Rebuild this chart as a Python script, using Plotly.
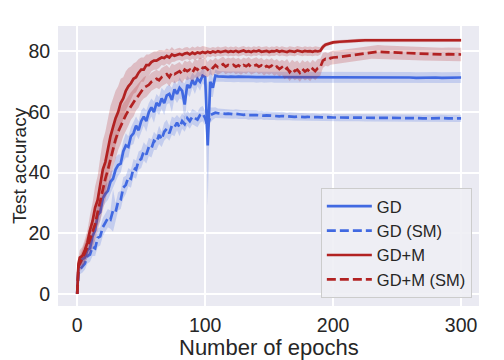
import plotly.graph_objects as go

# ---------------- data ----------------
epochs = [0, 1] + list(range(2, 201, 2)) + list(range(205, 301, 5))

gd_mean = [0, 9,
    10, 11.5, 12, 14.5, 15, 19, 21, 26, 27, 31.5,
    33, 34, 37, 38, 41, 42.5, 43, 47, 49, 48.5,
    52, 53, 55.5, 54, 57, 58.5, 57, 60, 61.5, 60,
    63, 62, 64.5, 63, 65.5, 66, 64, 67.5, 66, 68,
    67, 62.5, 69, 68, 70.5, 69, 71, 70, 72, 71.5,
    49, 70, 68, 72, 71.8, 71.7, 71.8, 71.7, 71.6, 71.7,
    71.6, 71.6, 71.7, 71.6, 71.5, 71.6, 71.6, 71.5, 71.6, 71.5,
    71.5, 71.6, 71.5, 71.5, 71.5, 71.6, 71.5, 71.5, 71.4, 71.5,
    71.5, 71.4, 71.5, 71.5, 71.4, 71.5, 71.4, 71.5, 71.4, 71.4,
    71.5, 71.4, 71.4, 71.5, 71.4, 71.4, 71.4, 71.5, 71.4, 71.4,
    71.4, 71.4, 71.4, 71.4, 71.4, 71.4, 71.4, 71.4, 71.4, 71.4,
    71.4, 71.4, 71.3, 71.4, 71.4, 71.4, 71.3, 71.4, 71.4, 71.4]
gd_sd = [0, 1.5,
    1.5, 2, 2, 2.5, 2.5, 3, 3, 3.5, 3, 3,
    3, 3, 3.5, 3, 4, 3.5, 3, 3.5, 4, 3.5,
    3, 3.5, 3, 3, 3.5, 3, 3.5, 3, 3, 3.5,
    3, 3, 3.5, 4, 3, 3, 4, 3, 3, 3.5,
    3, 7, 3, 3, 2.5, 3, 2.5, 3, 2.5, 3,
    20, 5, 3, 2, 1.8, 1.8, 1.8, 1.8, 1.8, 1.8,
    1.8, 1.8, 1.8, 1.8, 1.8, 1.8, 1.8, 1.8, 1.8, 1.8,
    1.8, 1.8, 1.8, 1.8, 1.8, 1.8, 1.8, 1.8, 1.8, 1.8,
    1.8, 1.8, 1.8, 1.8, 1.8, 1.8, 1.8, 1.8, 1.8, 1.8,
    1.8, 1.8, 1.8, 1.8, 1.8, 1.8, 1.8, 1.8, 1.8, 1.8,
    1.8, 1.8, 1.8, 1.8, 1.8, 1.8, 1.8, 1.8, 1.8, 1.8,
    1.8, 1.8, 1.8, 1.8, 1.8, 1.8, 1.8, 1.8, 1.8, 1.8]

gd_sm_mean = [0, 7,
    8, 9, 10, 12.5, 13, 15.5, 15, 18.5, 19, 22,
    23.5, 25, 24.5, 27.5, 27, 30.5, 31, 35, 36, 38.5,
    38, 41.5, 41, 44, 44.5, 47, 46, 48.5, 48, 50.5,
    50, 52.5, 51, 53.5, 54.5, 53, 55.5, 55, 56.5, 55,
    57, 56, 58, 57, 58.5, 58, 57.5, 59, 59.5, 58,
    55, 59, 59.5, 59.8, 59.6, 59.5, 59.6, 59.4, 59.5, 59.3,
    59.3, 59.4, 59.2, 59.2, 59.1, 59.2, 59.0, 59.1, 59.0, 59.0,
    58.9, 59.0, 58.8, 58.9, 58.8, 58.7, 58.8, 58.7, 58.6, 58.7,
    58.6, 58.5, 58.6, 58.5, 58.4, 58.5, 58.4, 58.4, 58.3, 58.4,
    58.3, 58.4, 58.3, 58.3, 58.2, 58.3, 58.2, 58.3, 58.2, 58.2,
    58.2, 58.2, 58.1, 58.2, 58.1, 58.1, 58.1, 58.0, 58.1, 58.0,
    58.0, 58.0, 58.0, 57.9, 58.0, 57.9, 58.0, 57.9, 57.9, 57.9]
gd_sm_sd = [0, 1.5,
    1.5, 2, 2, 2.5, 2.5, 3, 2.5, 3, 3, 3,
    3, 3, 3, 7, 3, 3, 3, 3.5, 3, 3,
    3, 3, 3, 3, 3, 3, 3, 3, 3, 3,
    2.5, 3, 2.5, 3, 3, 2.5, 3, 3, 2.5, 3,
    2.5, 2.5, 2.5, 2.5, 2.5, 2.5, 2.5, 2.5, 2.5, 2.5,
    6, 2.5, 2, 1.8, 1.6, 1.6, 1.6, 1.5, 1.5, 1.5,
    1.5, 1.5, 1.5, 1.5, 1.5, 1.5, 1.5, 1.5, 1.5, 1.5,
    1.4, 1.4, 1.4, 1.4, 1.4, 1.4, 1.4, 1.4, 1.4, 1.4,
    1.3, 1.3, 1.3, 1.3, 1.3, 1.3, 1.3, 1.3, 1.3, 1.3,
    1.2, 1.2, 1.2, 1.2, 1.2, 1.2, 1.2, 1.2, 1.2, 1.2,
    1.2, 1.2, 1.2, 1.2, 1.2, 1.2, 1.2, 1.2, 1.2, 1.2,
    1.2, 1.2, 1.2, 1.2, 1.2, 1.2, 1.2, 1.2, 1.2, 1.2]

gdm_mean = [0, 10,
    12, 12.5, 14.5, 17, 21, 24, 28.5, 31, 36, 41,
    43.5, 48, 52, 55, 58, 60, 63, 64.5, 67, 68.5,
    69.5, 71, 71.5, 73, 74, 74, 75.5, 75.5, 76.5, 77,
    77, 77.5, 78, 77.8, 78.5, 78, 79, 78.6, 79, 79.2,
    78.8, 79.3, 79.5, 79, 79.6, 79.2, 79.7, 79.4, 79.8, 79.5,
    79.9, 79.6, 80, 79.7, 80.1, 79.8, 80, 80.2, 79.8, 80.1,
    79.9, 80.2, 79.8, 80, 80.3, 79.9, 80.1, 79.8, 80.2, 80,
    80.3, 79.9, 80.1, 80.2, 79.8, 80.1, 80, 80.3, 79.9, 80.2,
    80, 79.8, 80.2, 80.1, 79.9, 80.3, 80, 79.9, 80.2, 80,
    80.1, 79.9, 80.2, 80.0, 80.2, 81.5, 82.2, 82.5, 82.8, 83.0,
    83.2, 83.4, 83.5, 83.6, 83.7, 83.7, 83.8, 83.8, 83.8, 83.8,
    83.8, 83.8, 83.8, 83.7, 83.8, 83.7, 83.7, 83.7, 83.7, 83.7]
gdm_sd = [0, 2,
    2.5, 3, 3.5, 4, 5, 6, 7, 8, 9, 9.5,
    10, 10, 10, 9.5, 9, 8.5, 8, 7, 6.5, 6,
    5.5, 5, 5, 4.5, 4, 4, 3.5, 3.5, 3, 3,
    3, 3, 2.5, 2.5, 2.5, 2.5, 2.5, 2, 2, 2,
    2, 2, 2, 2, 2, 2, 2, 2, 2, 2,
    1.5, 1.5, 1.5, 1.5, 1.5, 1.5, 1.5, 1.5, 1.5, 1.5,
    1.5, 1.5, 1.5, 1.5, 1.5, 1.5, 1.5, 1.5, 1.5, 1.5,
    1.5, 1.5, 1.5, 1.5, 1.5, 1.5, 1.5, 1.5, 1.5, 1.5,
    1.5, 1.5, 1.5, 1.5, 1.5, 1.5, 1.5, 1.5, 1.5, 1.5,
    1.5, 1.5, 1.5, 1.5, 1.2, 0.9, 0.7, 0.6, 0.6, 0.6,
    0.6, 0.6, 0.6, 0.6, 0.6, 0.6, 0.6, 0.6, 0.6, 0.6,
    0.6, 0.6, 0.6, 0.6, 0.6, 0.6, 0.6, 0.6, 0.6, 0.6]

gdm_sm_mean = [0, 9,
    10, 11.5, 13.5, 15.5, 18, 20, 23, 27, 31, 35,
    38, 41, 44.5, 48, 51, 53.5, 55.5, 57.5, 59, 60.5,
    62, 63, 64.5, 65.5, 67, 68, 68.5, 69, 70, 70.5,
    71, 70.5, 71.5, 72, 72.5, 71.5, 73, 72.5, 73, 73.5,
    72.5, 74, 73.5, 74, 73, 74.5, 74, 75, 74.5, 74.8,
    74, 75, 74.5, 75.5, 74.8, 75.2, 75.8, 75, 75.5, 75.2,
    75.6, 75, 75.4, 74.8, 75.5, 75.1, 75.7, 74.9, 75.3, 75.6,
    75, 75.4, 74.6, 75.2, 74.8, 75.3, 74.5, 75, 74.2, 74.8,
    73.8, 74.5, 73.2, 74.3, 73.5, 74, 73, 74.2, 73.4, 74,
    73.2, 74.3, 73.5, 74.5, 74.8, 77, 77.5, 77.2, 77.8, 78,
    78.2, 78.5, 78.8, 79.2, 79.5, 79.8, 79.9, 79.8, 79.7, 79.6,
    79.5, 79.4, 79.3, 79.2, 79.1, 79.2, 79.0, 79.1, 79.0, 79.0]
gdm_sm_sd = [0, 2,
    2.5, 3, 3.5, 4, 4.5, 5, 5.5, 6, 6.5, 7,
    7, 7, 7, 6.5, 6.5, 6, 6, 5.5, 5, 5,
    4.5, 4.5, 4, 4, 3.5, 3.5, 3.5, 3, 3, 3,
    3, 3, 3, 3, 3, 3, 3, 3, 3, 3,
    3, 3, 3, 3, 3, 3, 3, 3, 3, 3,
    2.5, 2.5, 2.5, 2.5, 2.5, 2.5, 2.5, 2.5, 2.5, 2.5,
    2.5, 2.5, 2.5, 2.5, 2.5, 2.5, 2.5, 2.5, 2.5, 2.5,
    2.5, 2.5, 2.5, 2.5, 2.5, 2.5, 2.5, 2.5, 2.5, 2.5,
    3, 3, 3, 3, 3, 3, 3, 3, 3, 3,
    3, 3, 3, 3, 2.8, 2.5, 2.2, 2.2, 2.2, 2.2,
    2.2, 2.2, 2.2, 2.2, 2.2, 2.2, 2.2, 2.2, 2.2, 2.2,
    2.2, 2.2, 2.2, 2.2, 2.2, 2.2, 2.2, 2.2, 2.2, 2.2]

series_names = ["GD", "GD (SM)", "GD+M", "GD+M (SM)"]
x_ticks = [0, 100, 200, 300]
y_ticks = [0, 20, 40, 60, 80]
x_title = "Number of epochs"
y_title = "Test accuracy"

# ---------------- figure ----------------
BLUE = "#4169E1"
RED = "#B22222"
BLUE_FILL = "rgba(65,105,225,0.22)"
RED_FILL = "rgba(178,34,34,0.22)"
DASH = "9px,4px"

series = [
    (series_names[0], gd_mean, gd_sd, BLUE, BLUE_FILL, "solid"),
    (series_names[1], gd_sm_mean, gd_sm_sd, BLUE, BLUE_FILL, DASH),
    (series_names[2], gdm_mean, gdm_sd, RED, RED_FILL, "solid"),
    (series_names[3], gdm_sm_mean, gdm_sm_sd, RED, RED_FILL, DASH),
]

fig = go.Figure()
for name, mean, sd, col, fill, dash in series:
    upper = [m + s for m, s in zip(mean, sd)]
    lower = [m - s for m, s in zip(mean, sd)]
    fig.add_trace(go.Scatter(
        x=epochs + epochs[::-1], y=upper + lower[::-1],
        fill="toself", fillcolor=fill, line=dict(width=0),
        mode="lines", hoverinfo="skip", showlegend=False))
    fig.add_trace(go.Scatter(
        x=epochs, y=mean, mode="lines", name=name,
        line=dict(color=col, width=2.7, dash=dash)))

FONT = "Liberation Sans, Arial, sans-serif"
TXT = "#262626"
# the page body has an 8px margin, so the figure is 496x352 and offset by 8px
fig.update_layout(
    width=496, height=352,
    margin=dict(l=50, r=25, t=18, b=54),
    paper_bgcolor="white", plot_bgcolor="#EAEAF2",
    font=dict(family=FONT, color=TXT, size=19),
    showlegend=True,
    legend=dict(x=0.983, y=0.029, xanchor="right", yanchor="bottom",
                bgcolor="rgba(238,238,244,0.9)", bordercolor="#cccccc",
                borderwidth=1, font=dict(size=16.5, color=TXT),
                tracegroupgap=0, itemwidth=45),
    annotations=[
        dict(text=x_title, xref="paper", yref="paper", x=0.5, y=0,
             xanchor="center", yanchor="middle", yshift=-41.5,
             showarrow=False, font=dict(size=22, color=TXT, family=FONT)),
        dict(text=y_title, xref="paper", yref="paper", x=0, y=0.5,
             xanchor="center", yanchor="middle", xshift=-39, textangle=-90,
             borderpad=0, borderwidth=0,
             showarrow=False, font=dict(size=19, color=TXT, family=FONT)),
    ],
)
fig.update_xaxes(
    range=[-15, 314], tickvals=x_ticks, showgrid=True, gridcolor="white",
    gridwidth=1.5, zeroline=False, showline=False,
    ticks="outside", ticklen=2, tickcolor="rgba(0,0,0,0)",
    tickfont=dict(size=19.5, color=TXT, family=FONT),
    automargin=False)
fig.update_yaxes(
    range=[-4, 88.4], tickvals=y_ticks, showgrid=True, gridcolor="white",
    gridwidth=1.5, zeroline=False, showline=False,
    ticks="outside", ticklen=3, tickcolor="rgba(0,0,0,0)",
    tickfont=dict(size=19.5, color=TXT, family=FONT),
    automargin=False)

fig.write_html("out.html")
